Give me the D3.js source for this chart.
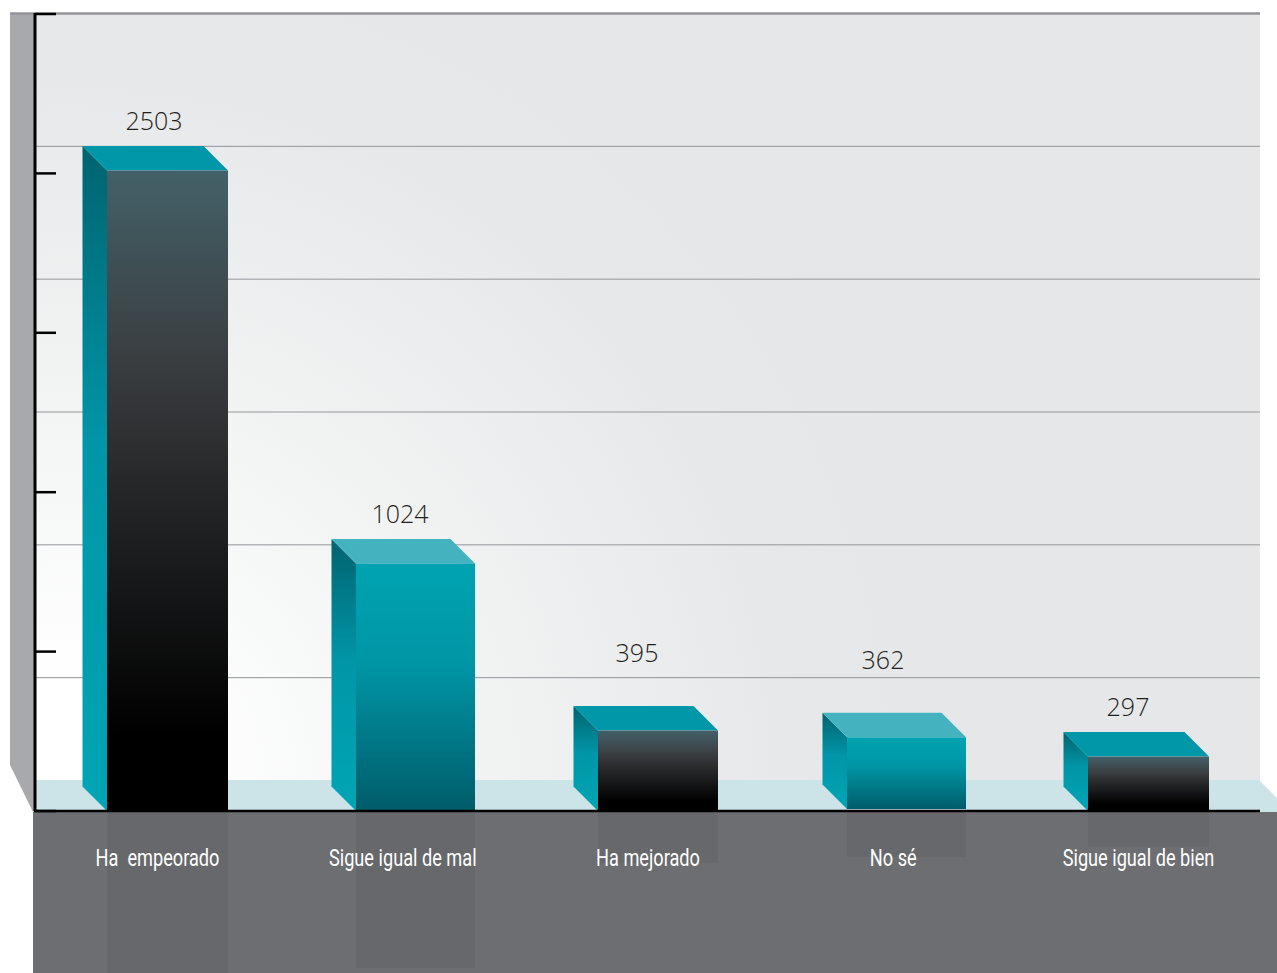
<!DOCTYPE html>
<html><head><meta charset="utf-8">
<script src="https://cdn.jsdelivr.net/npm/d3@7"></script>
<style>
html,body{margin:0;padding:0;background:#fff;overflow:hidden}
svg{display:block}
.val{font-family:"Open Sans",sans-serif;font-weight:300;font-size:25px;fill:#231f20;text-anchor:middle}
.cat text{font-family:"Roboto",sans-serif;font-size:23px;fill:#fff;white-space:pre}
</style></head><body>
<svg id="c" width="1277" height="973"></svg>
<script>
const categories=["Ha  empeorado","Sigue igual de mal","Ha mejorado","No sé","Sigue igual de bien"];
const values=[2503,1024,395,362,297];
const palettes=["dark","teal","dark","teal","dark"];
const gridTicks=[500,1000,1500,2000,2500,3000];
const axisTicks=[0,600,1200,1800,2400,3000];
const barLeftEdges=[107,356,598,847,1088];
const barRightEdges=[228,475,718,966,1209];
const valueLabelCenters=[154,400,637,883,1128];
const valueLabelGaps=[16,16,44,46,16];
const barLifts=[0,0,0,2,0];

const W=1277,H=973,depth=24.5,base=811,topY=14;
const svg=d3.select("#c");
const y=d3.scaleLinear().domain([0,3000]).range([base,topY]);
const xL=d3.scaleOrdinal().domain(categories).range(barLeftEdges);
const xR=d3.scaleOrdinal().domain(categories).range(barRightEdges);
const xV=d3.scaleOrdinal().domain(categories).range(valueLabelCenters);
const xCat=d3.scalePoint().domain(categories).range([157,1138]);

const defs=svg.append("defs");
function lin(id,stops){
  const g=defs.append("linearGradient").attr("id",id).attr("x1",0).attr("y1",0).attr("x2",0).attr("y2",1);
  stops.forEach(s=>g.append("stop").attr("offset",s[0]).attr("stop-color",s[1]));
}
lin("frontdark",[[0,"#436168"],[0.3,"#3a3d40"],[0.5,"#252628"],[0.88,"#000"],[1,"#000"]]);
lin("frontteal",[[0,"#00a3b2"],[0.4,"#0096a6"],[1,"#005c69"]]);
lin("side",[[0,"#00636f"],[0.45,"#0096a8"],[1,"#00a5b4"]]);
const rg=defs.append("radialGradient").attr("id","wall").attr("gradientUnits","userSpaceOnUse")
  .attr("cx",70).attr("cy",790).attr("r",900);
[[0,"#ffffff"],[0.12,"#ffffff"],[0.45,"#f2f3f3"],[0.8,"#e7e8e9"],[1,"#e6e7e8"]].forEach(s=>rg.append("stop").attr("offset",s[0]).attr("stop-color",s[1]));

// wall, side wall, floor, ground
svg.append("rect").attr("x",35).attr("y",topY).attr("width",1225).attr("height",base-topY).attr("fill","url(#wall)");
svg.append("path").attr("d","M10,13L35,13L35,812L33,812L10,765Z").attr("fill","#a7a9ac");
svg.append("path").attr("d","M35,780L1259,780L1277,798L1277,812L35,812Z").attr("fill","#cce3e8");
svg.append("rect").attr("x",33).attr("y",812).attr("width",W-33).attr("height",H-812).attr("fill","#6d6e71");

// grid lines
const grid=svg.append("g").attr("transform","translate(35,-0.5)")
  .call(d3.axisRight(y).offset(0).tickValues(gridTicks).tickSize(1225).tickFormat(""));
grid.select(".domain").remove();
grid.selectAll(".tick line").attr("stroke","#939598").attr("stroke-width",1);
grid.selectAll(".tick").filter(d=>d===3000).select("line").attr("stroke-width",2.5).attr("x1",-25);

// reflections
svg.append("g").selectAll("rect").data(categories).join("rect")
  .attr("x",d=>xL(d)).attr("width",d=>xR(d)-xL(d))
  .attr("y",base+1)
  .attr("height",(d,i)=>(base-y(values[i])-depth)*0.63)
  .attr("fill","#67686b");

// bars
const bars=svg.append("g").selectAll("g").data(categories).join("g")
  .attr("transform",(d,i)=>`translate(0,${-barLifts[i]})`);
bars.append("path").attr("fill","url(#side)")
  .attr("d",(d,i)=>{const f=xL(d),b=f-depth,t=y(values[i]);
    return `M${b},${t}L${f},${t+depth}L${f},${base}L${b},${base-depth}Z`;});
bars.append("path").attr("fill",(d,i)=>palettes[i]==="dark"?"#0098a9":"#45b3bf")
  .attr("d",(d,i)=>{const f=xL(d),r=xR(d),t=y(values[i]);
    return `M${f-depth},${t}L${r-depth},${t}L${r},${t+depth}L${f},${t+depth}Z`;});
bars.append("rect").attr("x",d=>xL(d)).attr("width",d=>xR(d)-xL(d))
  .attr("y",(d,i)=>y(values[i])+depth)
  .attr("height",(d,i)=>base-y(values[i])-depth)
  .attr("fill",(d,i)=>`url(#front${palettes[i]})`);

// value labels
svg.append("g").selectAll("text").data(categories).join("text").attr("class","val")
  .attr("x",d=>xV(d)).attr("y",(d,i)=>y(values[i])-valueLabelGaps[i])
  .text((d,i)=>values[i]);

// y axis
const ax=svg.append("g").attr("transform","translate(35,0)")
  .call(d3.axisRight(y).offset(0).tickValues(axisTicks).tickSize(21).tickFormat(""));
ax.select(".domain").attr("d",`M0,${topY-1}V${base}`).attr("stroke","#000").attr("stroke-width",3);
ax.selectAll(".tick line").attr("stroke","#000").attr("stroke-width",2.5);

// x baseline + category labels
const xa=svg.append("g").attr("class","cat").attr("transform",`translate(0,${base})`)
  .call(d3.axisBottom(xCat).tickSize(0));
xa.select(".domain").attr("d","M34,0H1260").attr("stroke","#000").attr("stroke-width",2.5);
xa.selectAll("text").attr("dy","0.32em").attr("y",47.5).attr("transform","scale(0.79,1)");
</script></body></html>
